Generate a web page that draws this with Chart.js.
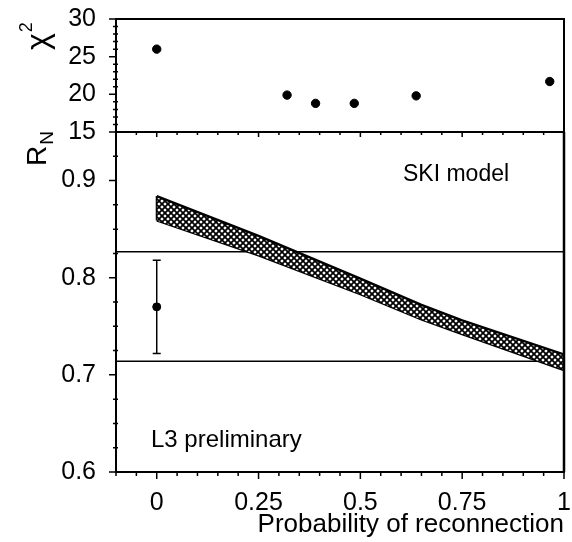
<!DOCTYPE html>
<html><head><meta charset="utf-8">
<script src="https://cdn.jsdelivr.net/npm/chart.js@4/dist/chart.umd.min.js"></script>
<style>html,body{margin:0;padding:0;background:#fff;} #wrap{width:572px;height:542px;position:relative;}</style>
</head><body><div id="wrap"><canvas id="c" width="572" height="542" style="width:572px;height:542px"></canvas></div>
<script>
// ---- data ----
const xTicks = [0, 0.25, 0.5, 0.75, 1];
const xTickLabels = ['0', '0.25', '0.5', '0.75', '1'];
const chiTicks = [15, 20, 25, 30];
const rnTicks = [0.6, 0.7, 0.8, 0.9];
const rnTickLabels = ['0.6', '0.7', '0.8', '0.9'];
const chiX = [0, 0.32, 0.39, 0.485, 0.637, 0.965];
const chiValues = [26.0, 19.9, 18.8, 18.8, 19.8, 21.7];
const bandX = [0, 0.25, 0.5, 0.65, 0.75, 1];
const bandUpper = [0.884, 0.843, 0.799, 0.772, 0.756, 0.721];
const bandLower = [0.859, 0.823, 0.783, 0.757, 0.742, 0.705];
const measX = [0];
const measValue = [0.770];
const measErrLow = [0.722];
const measErrHigh = [0.818];
const limitX = [-0.1, 1];
const upperLimit = [0.8267, 0.8267];
const lowerLimit = [0.714, 0.714];

const FONT = "'Liberation Sans', Arial, Helvetica, sans-serif";

function hatch() {
  const n = 6;
  const c = document.createElement('canvas'); c.width = n; c.height = n;
  const g = c.getContext('2d');
  g.fillStyle = '#fff'; g.fillRect(0, 0, n, n);
  g.strokeStyle = '#000'; g.lineWidth = 1.8;
  g.beginPath();
  g.moveTo(-1, -1); g.lineTo(n + 1, n + 1);
  g.moveTo(n + 1, -1); g.lineTo(-1, n + 1);
  g.stroke();
  return g.createPattern(c, 'repeat');
}

const pts = (xs, ys) => xs.map((x, i) => ({x: x, y: ys[i]}));

const deco = {
  id: 'deco',
  afterDraw(chart) {
    const ctx = chart.ctx, ca = chart.chartArea;
    const sx = chart.scales.x, sy = chart.scales.y, sy2 = chart.scales.y2;
    ctx.save();
    ctx.strokeStyle = '#000'; ctx.lineWidth = 2;
    ctx.strokeRect(ca.left, sy2.top, ca.right - ca.left, sy2.bottom - sy2.top);
    ctx.beginPath(); ctx.moveTo(ca.right, sy.top); ctx.lineTo(ca.right, sy.bottom); ctx.lineWidth = 2.5; ctx.stroke();
    ctx.lineWidth = 1.5;
    ctx.beginPath();
    for (let v = 15; v <= 30; v += 1) {
      const y = sy2.getPixelForValue(v);
      const major = v % 5 === 0;
      ctx.moveTo(ca.left - (major ? 7 : 3), y); ctx.lineTo(ca.left + (major ? 0 : 2), y);
    }
    for (let k = 0; k <= 14; k++) {
      const v = 0.6 + k * 0.025;
      const y = sy.getPixelForValue(v);
      const major = k % 4 === 0;
      ctx.moveTo(ca.left - (major ? 7 : 3), y); ctx.lineTo(ca.left + (major ? 0 : 2), y);
    }
    for (let k = 0; k <= 22; k++) {
      const v = -0.1 + k * 0.05;
      const x = sx.getPixelForValue(v);
      const major = Math.abs((v * 4) - Math.round(v * 4)) < 1e-6;
      ctx.moveTo(x, ca.bottom); ctx.lineTo(x, ca.bottom + (major ? 7 : 4));
      ctx.moveTo(x, sy2.bottom); ctx.lineTo(x, sy2.bottom + (major ? 5 : 3));
    }
    ctx.stroke();

    ctx.fillStyle = '#000';
    ctx.textBaseline = 'alphabetic';
    ctx.save();
    ctx.translate(48, 50); ctx.rotate(-Math.PI / 2);
    ctx.font = '32px ' + FONT; ctx.textAlign = 'left';
    ctx.fillText('\u03C7', 0, 0);
    const w = ctx.measureText('\u03C7').width;
    ctx.font = '18px ' + FONT;
    ctx.fillText('2', w + 1, -16);
    ctx.restore();
    ctx.save();
    ctx.translate(46, 166); ctx.rotate(-Math.PI / 2);
    ctx.font = '28px ' + FONT; ctx.textAlign = 'left';
    ctx.fillText('R', 0, 0);
    const wr = ctx.measureText('R').width;
    ctx.font = '19px ' + FONT;
    ctx.fillText('N', wr + 1, 7);
    ctx.restore();

    ctx.font = '23px ' + FONT; ctx.textAlign = 'left'; ctx.textBaseline = 'middle';
    ctx.fillText('SKI model', 403, 175);
    ctx.font = '24px ' + FONT;
    ctx.fillText('L3 preliminary', 151, 440);
    ctx.restore();
  }
};

new Chart(document.getElementById('c'), {
  type: 'scatter',
  data: {
    datasets: [
      { data: pts(bandX, bandUpper), yAxisID: 'y', showLine: true, borderColor: '#000', borderWidth: 2.4,
        pointRadius: 0, fill: '+1', backgroundColor: hatch(), tension: 0 },
      { data: pts(bandX, bandLower), yAxisID: 'y', showLine: true, borderColor: '#000', borderWidth: 2.4,
        pointRadius: 0, fill: false, tension: 0 },
      { data: [{x: bandX[0], y: bandLower[0]}, {x: bandX[0], y: bandUpper[0]}], yAxisID: 'y', showLine: true,
        borderColor: '#000', borderWidth: 2, pointRadius: 0 },
      { data: pts(limitX, upperLimit), yAxisID: 'y', showLine: true, borderColor: '#000', borderWidth: 1.5, pointRadius: 0 },
      { data: pts(limitX, lowerLimit), yAxisID: 'y', showLine: true, borderColor: '#000', borderWidth: 1.5, pointRadius: 0 },
      { data: [{x: measX[0], y: measErrLow[0]}, {x: measX[0], y: measErrHigh[0]}], yAxisID: 'y', showLine: true,
        borderColor: '#000', borderWidth: 1.5, pointStyle: 'line', pointRadius: 4, pointBorderWidth: 1.5, pointBorderColor: '#000' },
      { data: pts(measX, measValue), yAxisID: 'y', pointRadius: 4, backgroundColor: '#000', borderColor: '#000' },
      { data: pts(chiX, chiValues), yAxisID: 'y2', pointRadius: 4.2, backgroundColor: '#000', borderColor: '#000' }
    ]
  },
  options: {
    responsive: false,
    animation: false,
    devicePixelRatio: 1,
    layout: { padding: { top: 19, right: 8, left: 0, bottom: 0 } },
    plugins: { legend: { display: false }, tooltip: { enabled: false } },
    scales: {
      x: {
        type: 'linear', position: 'bottom', min: -0.1, max: 1,
        afterBuildTicks: s => { s.ticks = xTicks.map(v => ({value: v})); },
        ticks: { color: '#000', font: { family: FONT, size: 25 }, padding: 8, maxRotation: 0, autoSkip: false,
                 callback: v => xTickLabels[xTicks.indexOf(v)] },
        grid: { display: false },
        border: { display: true, color: '#000', width: 2 },
        title: { display: true, text: 'Probability of reconnection', align: 'end', color: '#000',
                 font: { family: FONT, size: 26 }, padding: { top: 0, bottom: 2 } },
        afterFit: s => { s.height = 70; s.paddingLeft = 0; s.paddingRight = 0; }
      },
      y: {
        type: 'linear', position: 'left', min: 0.6, max: 0.95, stack: 'v', stackWeight: 340,
        afterBuildTicks: s => { s.ticks = rnTicks.map(v => ({value: v})); },
        ticks: { color: '#000', font: { family: FONT, size: 25 }, padding: 12, autoSkip: false,
                 callback: v => rnTickLabels[rnTicks.indexOf(v)] },
        grid: { display: false },
        border: { display: true, color: '#000', width: 2 },
        afterFit: s => { s.width = 116; s.paddingTop = 0; s.paddingBottom = 0; }
      },
      y2: {
        type: 'linear', position: 'left', min: 15, max: 30, stack: 'v', stackWeight: 113,
        afterBuildTicks: s => { s.ticks = chiTicks.map(v => ({value: v})); },
        ticks: { color: '#000', font: { family: FONT, size: 25 }, padding: 12, autoSkip: false,
                 callback: v => String(v) },
        grid: { display: false },
        border: { display: true, color: '#000', width: 2 },
        afterFit: s => { s.width = 116; s.paddingTop = 0; s.paddingBottom = 0; }
      }
    }
  },
  plugins: [deco]
});
</script>
</body></html>
